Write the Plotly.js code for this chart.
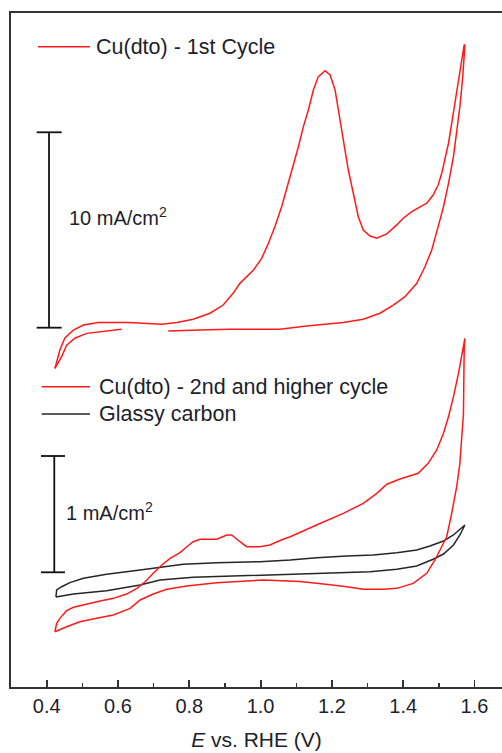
<!DOCTYPE html>
<html>
<head>
<meta charset="utf-8">
<script src="https://cdn.plot.ly/plotly-3.0.1.min.js"></script>
<style>
html,body{margin:0;padding:0;background:#fff;}
#chart{width:502px;height:753px;}
</style>
</head>
<body>
<div id="chart"></div>
<script>
// ---------- DATA (E in V vs RHE, j in mA/cm2) ----------
// Cu(dto) 1st cycle, anodic (forward) sweep
const c1FwdE = [0.423,0.428,0.437,0.451,0.475,0.503,0.545,0.629,0.680,0.723,0.765,0.811,0.858,0.895,0.923,0.942,0.980,1.003,1.022,1.040,1.059,1.078,1.092,1.106,1.120,1.134,1.148,1.162,1.181,1.195,1.209,1.218,1.232,1.246,1.260,1.274,1.288,1.307,1.326,1.354,1.382,1.400,1.424,1.447,1.466,1.484,1.498,1.508,1.517,1.527,1.536,1.545,1.555,1.564,1.571];
const c1FwdJ = [-2.08,-1.74,-1.14,-0.53,-0.12,0.14,0.26,0.26,0.20,0.18,0.26,0.43,0.74,1.16,1.76,2.27,2.95,3.55,4.32,5.17,6.19,7.39,8.41,9.26,10.29,11.14,12.16,12.85,13.15,12.93,12.16,11.14,9.44,8.07,6.88,5.68,5.00,4.69,4.58,4.80,5.26,5.60,5.94,6.19,6.37,6.79,7.30,7.90,8.58,9.44,10.46,11.48,12.68,13.53,14.47];
// Cu(dto) 1st cycle, cathodic (return) sweep (null = missing data)
const c1RevE = [1.573,1.567,1.559,1.550,1.541,1.527,1.513,1.498,1.480,1.461,1.438,1.405,1.372,1.335,1.288,1.232,1.129,1.054,0.914,0.830,0.741,null,0.610,0.550,0.512,0.479,0.456,0.442,0.423];
const c1RevJ = [14.47,12.85,11.31,10.12,8.75,7.39,6.19,5.17,3.98,3.12,2.27,1.59,1.16,0.74,0.43,0.26,0.09,-0.08,-0.08,-0.12,-0.17,null,-0.08,-0.20,-0.29,-0.54,-0.89,-1.48,-2.08];

// Cu(dto) 2nd and higher cycle
const c2FwdE = [0.423,0.428,0.437,0.456,0.475,0.512,0.550,0.587,0.624,0.653,0.676,0.699,0.723,0.746,0.774,0.793,0.811,0.830,0.877,0.905,0.919,0.942,0.961,0.998,1.026,1.063,1.083,1.157,1.232,1.288,1.326,1.354,1.391,1.442,1.470,1.494,1.513,1.527,1.541,1.555,1.564,1.573];
const c2FwdJ = [-0.511,-0.439,-0.396,-0.330,-0.301,-0.273,-0.247,-0.224,-0.187,-0.138,-0.081,-0.009,0.063,0.120,0.169,0.220,0.263,0.284,0.284,0.321,0.321,0.263,0.220,0.220,0.235,0.284,0.306,0.407,0.507,0.593,0.679,0.757,0.802,0.851,0.937,1.052,1.195,1.338,1.510,1.711,1.854,2.012];
const c2RevE = [1.573,1.571,1.569,1.559,1.550,1.536,1.522,1.508,1.489,1.466,1.428,1.382,1.344,1.288,1.242,1.176,1.111,1.008,0.877,0.793,0.737,0.699,0.662,0.634,0.587,0.540,0.493,0.456,0.423];
const c2RevJ = [2.012,1.911,1.367,0.937,0.736,0.507,0.306,0.220,0.106,-0.009,-0.095,-0.138,-0.146,-0.146,-0.124,-0.101,-0.079,-0.066,-0.089,-0.118,-0.146,-0.187,-0.238,-0.310,-0.367,-0.396,-0.425,-0.468,-0.511];

// Glassy carbon
const gcFwdE = [0.426,0.428,0.442,0.465,0.503,0.568,0.662,0.783,0.877,0.998,1.083,1.157,1.242,1.316,1.382,1.438,1.475,1.513,1.541,1.564,1.573];
const gcFwdJ = [-0.213,-0.152,-0.124,-0.089,-0.052,-0.017,0.020,0.069,0.083,0.091,0.106,0.126,0.140,0.149,0.169,0.192,0.226,0.269,0.321,0.378,0.407];
const gcRevE = [1.573,1.559,1.541,1.513,1.484,1.438,1.382,1.307,1.214,1.111,0.998,0.905,0.811,0.718,0.662,0.568,0.475,0.426];
const gcRevJ = [0.407,0.321,0.235,0.157,0.112,0.054,0.026,0.005,-0.003,-0.015,-0.028,-0.032,-0.043,-0.066,-0.109,-0.158,-0.187,-0.213];

const xTickVals = [0.4,0.6,0.8,1.0,1.2,1.4,1.6];
const xTickText = ['0.4','0.6','0.8','1.0','1.2','1.4','1.6'];
const seriesNames = ['Cu(dto) - 1st Cycle','Cu(dto) - 2nd and higher cycle','Glassy carbon'];
const scaleTop = [0,10];      // mA/cm2, top panel scale bar
const scaleBottom = [0,1];    // mA/cm2, bottom panel scale bar

// ---------- LAYOUT HELPERS ----------
const W = 502, H = 753;
const M = {l:11, r:0, t:13, b:66};
const PW = W - M.l - M.r, PH = H - M.t - M.b;
const px = (x) => (x - M.l) / PW;          // pixel -> paper x
const py = (y) => (H - M.b - y) / PH;      // pixel -> paper y

const FONT = 'Liberation Sans, Arial, sans-serif';
const TXT = '#1e1e2c';

const traces = [
  {x: c1FwdE.concat(c1RevE), y: c1FwdJ.concat(c1RevJ), yaxis:'y', name: seriesNames[0],
   mode:'lines', line:{color:'#ff1a1a', width:1.5}, connectgaps:false},
  {x: gcFwdE.concat(gcRevE), y: gcFwdJ.concat(gcRevJ), yaxis:'y2', name: seriesNames[2],
   mode:'lines', line:{color:'#262626', width:1.5}},
  {x: c2FwdE.concat(c2RevE), y: c2FwdJ.concat(c2RevJ), yaxis:'y2', name: seriesNames[1],
   mode:'lines', line:{color:'#ff1a1a', width:1.5}}
];

const shapes = [];
function bar(xc, x0, x1, yref, v0, v1){
  shapes.push({type:'line', xref:'x', yref:yref, x0:xc, x1:xc, y0:v0, y1:v1, line:{color:'#111', width:1.8}});
  shapes.push({type:'line', xref:'x', yref:yref, x0:x0, x1:x1, y0:v0, y1:v0, line:{color:'#111', width:1.8}});
  shapes.push({type:'line', xref:'x', yref:yref, x0:x0, x1:x1, y0:v1, y1:v1, line:{color:'#111', width:1.8}});
}
bar(0.4065, 0.372, 0.442, 'y', scaleTop[0], scaleTop[1]);
bar(0.4213, 0.384, 0.4513, 'y2', scaleBottom[0], scaleBottom[1]);

// legend lines
function legLine(x0, x1, y, color){
  shapes.push({type:'line', xref:'paper', yref:'paper', x0:px(x0), x1:px(x1), y0:py(y), y1:py(y), line:{color:color, width:1.5}});
}
legLine(38, 90, 46.7, '#ff1a1a');
legLine(41.7, 90, 386.7, '#ff1a1a');
legLine(41.7, 90, 414, '#262626');

const annotations = [];
function label(text, x, y){
  annotations.push({text:text, xref:'paper', yref:'paper', x:px(x), y:py(y), xanchor:'left', yanchor:'middle',
    showarrow:false, font:{family:FONT, size:21.5, color:TXT}});
}
label(seriesNames[0], 94, 46.5);
label(seriesNames[1], 97, 386.5);
label(seriesNames[2], 97, 414);
annotations.push({text:'10 mA/cm<sup>2</sup>', xref:'x', yref:'y', x:0.4561, y:5.68, xanchor:'left', yanchor:'middle',
  showarrow:false, font:{family:FONT, size:20, color:TXT}});
annotations.push({text:'1 mA/cm<sup>2</sup>', xref:'x', yref:'y2', x:0.4485, y:0.521, xanchor:'left', yanchor:'middle',
  showarrow:false, font:{family:FONT, size:20, color:TXT}});

const layout = {
  width: W, height: H,
  margin: M,
  paper_bgcolor:'#fff', plot_bgcolor:'#fff',
  showlegend:false,
  font:{family:FONT, size:20, color:TXT},
  xaxis:{
    range:[0.2999, 1.6771],
    tickmode:'array', tickvals:xTickVals, ticktext:xTickText,
    ticks:'inside', ticklen:7, tickwidth:1.8, tickcolor:'#333',
    minor:{dtick:0.1, tick0:0.3, ticks:'inside', ticklen:4, tickwidth:1.5, tickcolor:'#333', showgrid:false},
    showline:true, linecolor:'#333', linewidth:2, mirror:true,
    showgrid:false, zeroline:false,
    tickfont:{family:FONT, size:20, color:TXT},
    title:{text:'<i>E</i> vs. RHE (V)', font:{family:FONT, size:21, color:TXT}, standoff:16}
  },
  yaxis:{
    range:[-18.388, 16.105],
    showline:true, linecolor:'#333', linewidth:2,
    showticklabels:false, ticks:'', showgrid:false, zeroline:false
  },
  yaxis2:{
    range:[-0.9862, 4.809], overlaying:'y',
    visible:false, showgrid:false, zeroline:false
  },
  shapes: shapes,
  annotations: annotations
};

Plotly.newPlot('chart', traces, layout, {staticPlot:true, displayModeBar:false});
</script>
</body>
</html>
